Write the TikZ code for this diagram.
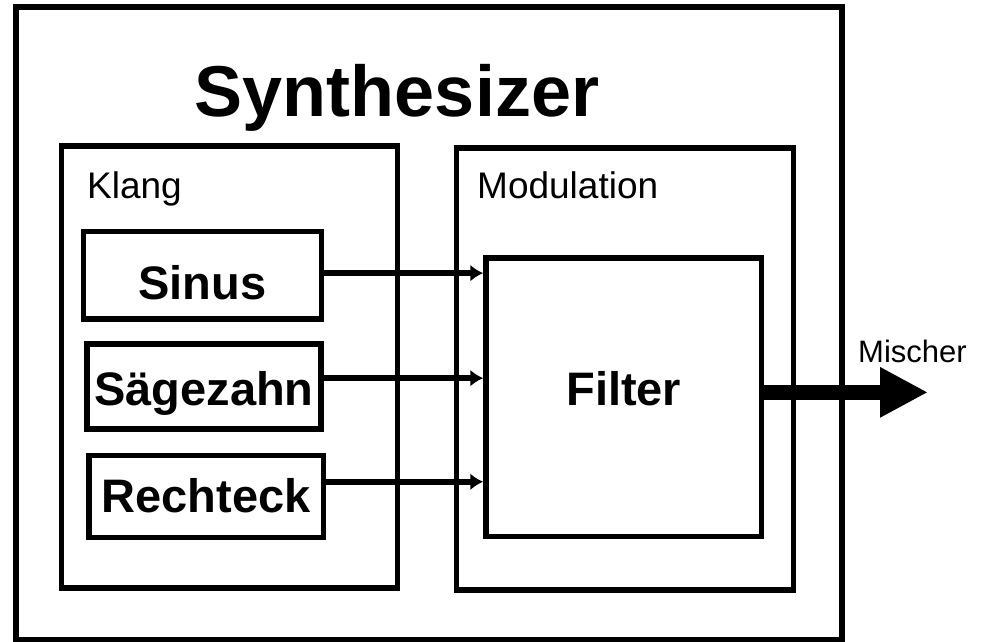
\documentclass[tikz,border=0pt]{standalone}
\usepackage{fontspec}
\setmainfont{Liberation Sans}
\usetikzlibrary{positioning,arrows.meta}

\begin{document}
\begin{tikzpicture}[
		x=1pt, y=-1pt,
		frame/.style={
			draw,
			line width=5.5pt,
			inner sep=0pt
		},
		wave/.style={
			frame,
			font=\fontsize{47}{47}\selectfont\bfseries,
			text depth=0pt
		},
		group/.style={
			font=\fontsize{37}{37}\selectfont,
			anchor=base west,
			inner sep=0pt
		},
		feed/.style={
			-{Latex[length=13pt,width=17pt]},
			line width=5.5pt
		}
		]
		
		\useasboundingbox (0,0) rectangle (985,642);
		
		\node[frame, minimum width=826pt, minimum height=632.5pt] at (429,323.25)
		(synth) {};
		\node[font=\fontsize{72}{72}\selectfont\bfseries, anchor=base, inner sep=0pt] at (397,116)
		(title) {Synthesizer};
		
		% Klang
		\node[frame, minimum width=336pt, minimum height=442pt] at (229.5,367)
		(klang) {};
		\node[group] at (87,198)
		(klangT) {Klang};
		\node[wave, minimum width=238pt, minimum height=87.5pt, text height=47.5pt] at (202.5,275.25)
		(sinus) {Sinus};
		\node[wave, minimum width=234pt, minimum height=85pt, text height=37pt] at (204,386.5)
		(saege) {Sägezahn};
		\node[wave, minimum width=234.5pt, minimum height=82pt, text height=31pt] at (206.25,496.5)
		(rechteck) {Rechteck};
		
		% Modulation
		\node[frame, minimum width=337pt, minimum height=442pt] at (625,369)
		(modul) {};
		\node[group] at (477,198)
		(modulT) {Modulation};
		\node[wave, minimum width=275.5pt, minimum height=278.5pt, text height=16pt] at (623.75,397.25)
		(filter) {Filter};
		
		\coordinate (mix) at (928,392.5);
		\node[font=\fontsize{31}{31}\selectfont, anchor=base west, inner sep=0pt] at (858,362)
		(mischer) {Mischer};
		
		\draw[feed] (sinus.1) -- (sinus.1 -| filter.west);
		\draw[feed] (saege.4) -- (saege.4 -| filter.west);
		\draw[feed] (rechteck.7) -- (rechteck.7 -| filter.west);
		\draw[line width=15pt, -{Triangle[length=48pt,width=47pt]}] (filter.2) -- (filter.2 -| mix);
		
		\end{tikzpicture}
\end{document}
